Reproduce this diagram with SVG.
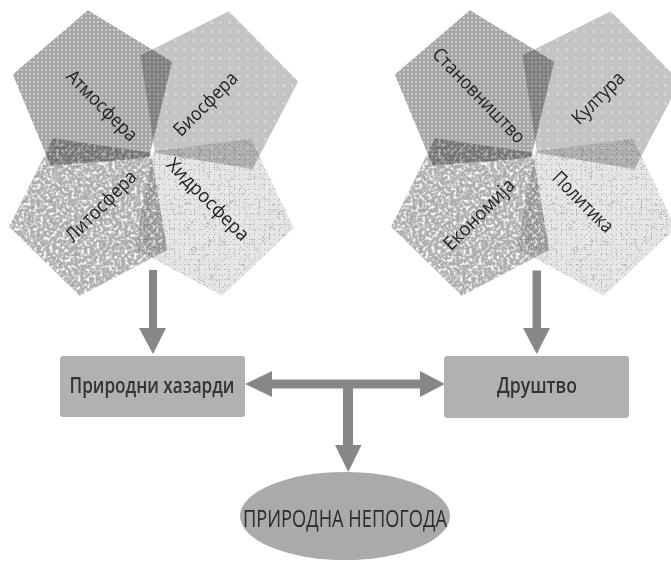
<svg xmlns="http://www.w3.org/2000/svg" width="671" height="561" viewBox="0 0 671 561">
<style>
.pent{mix-blend-mode:multiply}
.lbl{font-family:"Open Sans","DejaVu Sans",sans-serif;font-size:19px;fill:#222;text-anchor:middle}
.box{fill:#b1b1b3}
.btxt{font-family:"Open Sans","DejaVu Sans",sans-serif;font-size:21px;font-weight:600;fill:#333;text-anchor:middle}
.etxt{font-family:"Open Sans","DejaVu Sans",sans-serif;font-size:23px;fill:#2a2a2a;text-anchor:middle}
</style>
<defs>
<pattern id="pA" width="4" height="4" patternUnits="userSpaceOnUse">
<rect width="4" height="4" fill="#a4a4a4"/>
<circle cx="2" cy="2" r="1.2" fill="#cacaca"/>
</pattern>
<pattern id="pB" width="9" height="9" patternUnits="userSpaceOnUse">
<rect width="9" height="9" fill="#c4c4c4"/>
<circle cx="4.5" cy="4.5" r="2.4" fill="#d3d3d3" stroke="#b6b6b6" stroke-width="0.6"/>
</pattern>
<filter id="fMottle" x="0" y="0" width="1" height="1" color-interpolation-filters="sRGB">
<feTurbulence type="fractalNoise" baseFrequency="0.32" numOctaves="2" seed="4" result="n"/>
<feColorMatrix in="n" type="matrix" values="0 0 0 0 1  0 0 0 0 1  0 0 0 0 1  3.5 0 0 0 -1.6" result="w"/>
<feColorMatrix in="n" type="matrix" values="0 0 0 0 0.55  0 0 0 0 0.55  0 0 0 0 0.55  -3 0 0 0 0.95" result="d"/>
<feComposite in="w" in2="SourceGraphic" operator="in" result="w2"/>
<feComposite in="d" in2="SourceGraphic" operator="in" result="d2"/>
<feMerge><feMergeNode in="SourceGraphic"/><feMergeNode in="d2"/><feMergeNode in="w2"/></feMerge>
</filter>
<filter id="fVeins" x="0" y="0" width="1" height="1" color-interpolation-filters="sRGB">
<feTurbulence type="turbulence" baseFrequency="0.2" numOctaves="2" seed="7" result="t"/>
<feColorMatrix in="t" type="matrix" values="0 0 0 0 0.68  0 0 0 0 0.68  0 0 0 0 0.68  -8 0 0 0 1.05" result="v"/>
<feComposite in="v" in2="SourceGraphic" operator="in" result="v2"/>
<feMerge><feMergeNode in="SourceGraphic"/><feMergeNode in="v2"/></feMerge>
</filter>
</defs>
<rect width="671" height="561" fill="#ffffff"/>

<g id="biosfera">
<polygon class="pent" fill="url(#pB)" points="155.08,152.87 140.49,55.22 228.86,11.15 298.08,81.58 252.48,169.17"/>
</g>
<g id="atmosfera">
<polygon class="pent" fill="url(#pA)" points="149.05,157.87 50.61,165.62 12.82,74.39 87.91,10.26 172.11,61.85"/>
</g>
<g id="hidrosfera">
<polygon class="pent" fill="#e6e6e6" filter="url(#fVeins)" points="153.17,151.57 251.08,138.68 293.6,227.81 221.96,295.78 135.18,248.66"/>
</g>
<g id="litosfera">
<polygon class="pent" fill="#afafaf" filter="url(#fMottle)" points="150.77,152.68 167.24,250.05 79.73,295.8 9.18,226.71 53.08,138.26"/>
</g>

<g id="kultura">
<polygon class="pent" fill="url(#pB)" transform="translate(382,0)" points="155.08,152.87 140.49,55.22 228.86,11.15 298.08,81.58 252.48,169.17"/>
</g>
<g id="stanovnistvo">
<polygon class="pent" fill="url(#pA)" transform="translate(382,0)" points="149.05,157.87 50.61,165.62 12.82,74.39 87.91,10.26 172.11,61.85"/>
</g>
<g id="politika">
<polygon class="pent" fill="#e6e6e6" filter="url(#fVeins)" transform="translate(382,0)" points="153.17,151.57 251.08,138.68 293.6,227.81 221.96,295.78 135.18,248.66"/>
</g>
<g id="ekonomija">
<polygon class="pent" fill="#afafaf" filter="url(#fMottle)" transform="translate(382,0)" points="150.77,152.68 167.24,250.05 79.73,295.8 9.18,226.71 53.08,138.26"/>
</g>

<g id="labels">
<text class="lbl" transform="translate(101.5,106) rotate(45)" dy="0.3em" textLength="92" lengthAdjust="spacingAndGlyphs">Атмосфера</text>
<text class="lbl" transform="translate(206,104.5) rotate(-45)" dy="0.3em" textLength="82" lengthAdjust="spacingAndGlyphs">Биосфера</text>
<text class="lbl" transform="translate(101.5,206.5) rotate(-45)" dy="0.3em" textLength="92" lengthAdjust="spacingAndGlyphs">Литосфера</text>
<text class="lbl" transform="translate(207.5,200) rotate(45)" dy="0.3em" textLength="108" lengthAdjust="spacingAndGlyphs">Хидросфера</text>
<text class="lbl" transform="translate(478.5,96) rotate(46)" dy="0.3em" textLength="124" lengthAdjust="spacingAndGlyphs">Становништво</text>
<text class="lbl" transform="translate(598.5,98.5) rotate(-45)" dy="0.3em" textLength="66" lengthAdjust="spacingAndGlyphs">Култура</text>
<text class="lbl" transform="translate(479.5,215) rotate(-45)" dy="0.3em" textLength="92" lengthAdjust="spacingAndGlyphs">Економија</text>
<text class="lbl" transform="translate(582.5,202.5) rotate(45)" dy="0.3em" textLength="78" lengthAdjust="spacingAndGlyphs">Политика</text>
</g>

<g id="connectors" fill="#87878a">
<path d="M149,270 H157 V328 H166 L153,354 L139,328 H149 Z"/>
<path d="M532.5,270.5 H541 V328 H550 L536.7,354 L523,328 H532.5 Z"/>
<path d="M245,384 L272,371 V379.5 H420 V371 L445,384 L420,397 V388.5 H272 V397 Z"/>
<path d="M343,388 H353 V445 H361.5 L348.3,472 L335,445 H343 Z"/>
</g>

<g id="prirodni-hazardi">
<rect class="box" x="60" y="356" width="185" height="61" rx="3"/>
<text class="btxt" x="152" y="393.3" textLength="165" lengthAdjust="spacingAndGlyphs">Природни хазарди</text>
</g>
<g id="drustvo">
<rect class="box" x="444" y="356" width="185" height="62" rx="3"/>
<text class="btxt" x="537" y="393.3" textLength="80" lengthAdjust="spacingAndGlyphs">Друштво</text>
</g>
<g id="prirodna-nepogoda">
<ellipse cx="345" cy="516" rx="105" ry="44" fill="#aaaaac"/>
<text class="etxt" x="345" y="527" textLength="204" lengthAdjust="spacingAndGlyphs">ПРИРОДНА НЕПОГОДА</text>
</g>
</svg>
